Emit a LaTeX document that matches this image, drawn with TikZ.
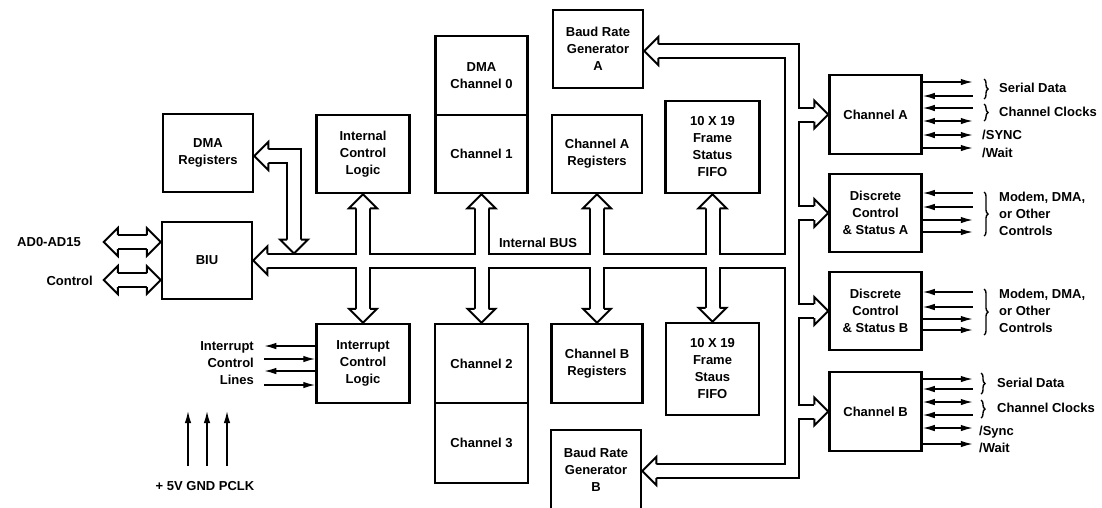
\documentclass[tikz,border=0pt]{standalone}
\usepackage{fontspec}
\setmainfont{Liberation Sans}
\usetikzlibrary{calc,arrows.meta,decorations.pathreplacing}
\newcommand\headW[1]{\filldraw[fatedge] ($(#1)+(14,-7)$) -- ($(#1)+(14,-14)$) -- (#1) -- ($(#1)+(14,14)$) -- ($(#1)+(14,7)$);}
\newcommand\headE[1]{\filldraw[fatedge] ($(#1)+(-14,-7)$) -- ($(#1)+(-14,-14)$) -- (#1) -- ($(#1)+(-14,14)$) -- ($(#1)+(-14,7)$);}
\newcommand\headN[1]{\filldraw[fatedge] ($(#1)+(-7,14)$) -- ($(#1)+(-14,14)$) -- (#1) -- ($(#1)+(14,14)$) -- ($(#1)+(7,14)$);}
\newcommand\headS[1]{\filldraw[fatedge] ($(#1)+(-7,-14)$) -- ($(#1)+(-14,-14)$) -- (#1) -- ($(#1)+(14,-14)$) -- ($(#1)+(7,-14)$);}
\newcommand\fatnet[1]{%
 \draw[#1] ($(biu.east)+(14,0)$) -- (rb |- biu.east);
 \draw[#1] ($(tBA)+(14,0)$) -- (rb |- tBA) -- (rb |- tBB) -- ($(tBB)+(14,0)$);
 \foreach \b in {chA,dcsA,dcsB,chB}{\draw[#1] (rb |- \b.west) -- ($(\b.west)+(-14,0)$);}
 \foreach \u/\d in {icl/intctl,ch1/ch2,charegs/chbregs,fifoA/fifoB}{\draw[#1] ($(\u.south)+(0,14)$) -- ($(\d.north)+(0,-14)$);}
 \draw[#1] ($(tDR)+(14,0)$) -- (tDC) -- ($(tDB)+(0,-14)$);
 \draw[#1] ($(tAD1)+(14,0)$) -- ($(tAD2)+(-14,0)$);
 \draw[#1] ($(tCT1)+(14,0)$) -- ($(tCT2)+(-14,0)$);
}
\begin{document}
\begin{tikzpicture}[x=1pt,y=-1pt,
  font=\fontsize{13}{17}\selectfont\bfseries,
  box/.style={draw, line width=2.5pt, align=center, inner sep=0pt},
  fatedge/.style={draw=black, fill=white, line width=2pt, line join=miter},
  sig/.style={line width=1.4pt},
  sigR/.style={sig, -{Latex[length=12pt,width=6.5pt]}},
  sigL/.style={sig, {Latex[length=12pt,width=6.5pt]}-},
  sigB/.style={sig, {Latex[length=12pt,width=6.5pt]}-{Latex[length=12pt,width=6.5pt]}},
  brc/.style={decorate, decoration={brace, amplitude=4pt}, line width=1.4pt},
  lbl/.style={inner sep=0pt}]
\useasboundingbox (0,0) rectangle (1102,507);
% boxes
\node[box, minimum width=90, minimum height=78] (dmareg) at (208,153) {DMA\\Registers};
\node[box, minimum width=90, minimum height=77] (biu) at (207,260.5) {BIU};
\node[box, minimum width=93, minimum height=78] (icl) at (363,154) {Internal\\Control\\Logic};
\node[box, minimum width=92, minimum height=79] (dma0) at (481.5,75.5) {DMA\\Channel 0};
\node[box, minimum width=92, minimum height=78] (ch1) at (481.5,154) {Channel 1};
\node[box, minimum width=90, minimum height=78] (brgA) at (598,49) {Baud Rate\\Generator\\A};
\node[box, minimum width=90, minimum height=78] (charegs) at (597,154) {Channel A\\Registers};
\node[box, minimum width=94, minimum height=92] (fifoA) at (712.5,147) {10 X 19\\Frame\\Status\\FIFO};
\node[box, minimum width=93, minimum height=79] (intctl) at (363,363.5) {Interrupt\\Control\\Logic};
\node[box, minimum width=93, minimum height=79] (ch2) at (481.5,363.5) {Channel 2};
\node[box, minimum width=93, minimum height=80] (ch3) at (481.5,443) {Channel 3};
\node[box, minimum width=91, minimum height=79] (chbregs) at (597,363.5) {Channel B\\Registers};
\node[box, minimum width=93, minimum height=92] (fifoB) at (712.5,369) {10 X 19\\Frame\\Staus\\FIFO};
\node[box, minimum width=90, minimum height=80] (brgB) at (596,470) {Baud Rate\\Generator\\B};
\node[box, minimum width=92, minimum height=79] (chA) at (875.5,114.5) {Channel A};
\node[box, minimum width=92, minimum height=78] (dcsA) at (875.5,213) {Discrete\\Control\\\& Status A};
\node[box, minimum width=92, minimum height=78] (dcsB) at (875.5,311) {Discrete\\Control\\\& Status B};
\node[box, minimum width=92, minimum height=79] (chB) at (875.5,411.5) {Channel B};
% coordinates for fat arrows
\coordinate (rb) at (792,0);
\coordinate (tBA) at ($(brgA.east)+(0,2)$);
\coordinate (tBB) at ($(brgB.east)+(0,1)$);
\coordinate (tDR) at ($(dmareg.east)+(0,3)$);
\coordinate (tDC) at (294,156);
\coordinate (tDB) at (294,253.5);
\coordinate (tAD1) at ($(biu.west)+(-57,-18.5)$);
\coordinate (tAD2) at ($(biu.west)+(0,-18.5)$);
\coordinate (tCT1) at ($(biu.west)+(-57,19.5)$);
\coordinate (tCT2) at ($(biu.west)+(0,19.5)$);
\fatnet{line width=16pt, black, line join=miter}
\fatnet{line width=12pt, white, line join=miter}
% heads
\headW{biu.east}
\headW{tBA}
\headW{tBB}
\foreach \b in {chA,dcsA,dcsB,chB}{\headE{\b.west}}
\foreach \u/\d in {icl/intctl,ch1/ch2,charegs/chbregs,fifoA/fifoB}{\headN{\u.south}\headS{\d.north}}
\headW{tDR}
\headS{tDB}
\headW{tAD1}\headE{tAD2}
\headW{tCT1}\headE{tCT2}
% thin signal lines
\foreach \o/\s in {-32.5/sigR,-18.5/sigL,-6.5/sigL,6.5/sigB,20.5/sigB,33.5/sigR}{\draw[\s] ($(chA.east)+(0,\o)$) -- ++(50,0);}
\foreach \o/\s in {-20/sigL,-6/sigL,7/sigR,19/sigR}{\draw[\s] ($(dcsA.east)+(0,\o)$) -- ++(50,0);}
\foreach \o/\s in {-19/sigL,-4/sigL,8/sigR,19/sigR}{\draw[\s] ($(dcsB.east)+(0,\o)$) -- ++(50,0);}
\foreach \o/\s in {-32.5/sigR,-22.5/sigL,-9.5/sigB,3.5/sigL,16.5/sigB,32.5/sigR}{\draw[\s] ($(chB.east)+(0,\o)$) -- ++(50,0);}
\foreach \o/\s in {-17.5/sigL,-4.5/sigR,7.5/sigL,21.5/sigR}{\draw[\s] ($(intctl.west)+(-51,\o)$) -- ($(intctl.west)+(0,\o)$);}
% braces
\draw[brc] (984,79) -- (984,99);
\draw[brc] (984,104) -- (984,121);
\draw[brc] (984,192) -- (984,236);
\draw[brc] (984,289) -- (984,335);
\draw[brc] (981,373) -- (981,394);
\draw[brc] (981,400) -- (981,418);
% labels
\node[lbl, anchor=west] (sdA) at (999,88) {Serial Data};
\node[lbl, anchor=west] (ccA) at (999,112) {Channel Clocks};
\node[lbl, anchor=west] (syA) at (982,135) {/SYNC};
\node[lbl, anchor=west] (wtA) at (982,153) {/Wait};
\node[lbl, anchor=west, align=left] (mdA) at (999,213.5) {Modem, DMA,\\or Other\\Controls};
\node[lbl, anchor=west, align=left] (mdB) at (999,310.5) {Modem, DMA,\\or Other\\Controls};
\node[lbl, anchor=west] (sdB) at (997,383) {Serial Data};
\node[lbl, anchor=west] (ccB) at (997,408) {Channel Clocks};
\node[lbl, anchor=west] (syB) at (979,432) {/Sync};
\node[lbl, anchor=west] (wtB) at (979,448) {/Wait};
\node[lbl, anchor=east] (adl) at (81,242) {AD0-AD15};
\node[lbl, anchor=east] (ctl) at (93,281) {Control};
\node[lbl, anchor=east, align=right] (icll) at (254,363.5) {Interrupt\\Control\\Lines};
\node[lbl] (ibus) at (538,243) {Internal BUS};
\node[lbl] (pwr) at (205,486) {+ 5V GND PCLK};
\foreach \x in {188,207,227}{\draw[sigR] (\x,466) -- (\x,411);}
\end{tikzpicture}
\end{document}
